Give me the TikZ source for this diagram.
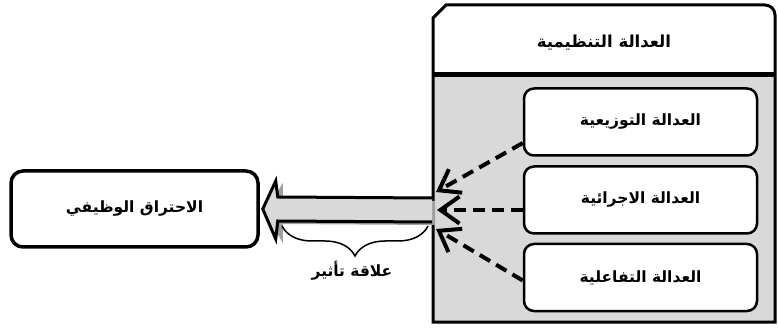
\documentclass[tikz,border=0pt]{standalone}
\usepackage{fontspec}
\newfontfamily\arabicfont[Script=Arabic]{DejaVu Sans}
\TeXXeTstate=1
\usetikzlibrary{arrows.meta,calc,decorations.pathreplacing}
\definecolor{bodygray}{RGB}{217,217,217}
\definecolor{shadowgray}{RGB}{160,160,160}
\tikzset{
  ar/.style={font=\arabicfont\bfseries\fontsize{15.5}{18}\selectfont},
  innerbox/.style={draw=black, line width=2.5pt, rounded corners=10pt, fill=white,
    minimum width=233pt, minimum height=67pt, ar},
  burnbox/.style={draw=black, line width=3.5pt, rounded corners=12pt, fill=white,
    minimum width=247pt, minimum height=76pt, ar},
  dasharr/.style={line width=4pt, dash pattern=on 12pt off 7pt,
    -{Straight Barb[length=19pt,width=27pt,line width=4pt]}},
  blockarr/.style={draw=black, line width=3pt, fill=bodygray, line join=miter},
  bracestyle/.style={draw=black, line width=1.5pt, decorate,
    decoration={brace, mirror, amplitude=30pt, aspect=0.5}},
}
\begin{document}
\begin{tikzpicture}[x=1pt,y=-1pt]
\useasboundingbox (0,0) rectangle (778,328);
% outer frame
\fill[bodygray] (433,18) -- (446,5) [rounded corners=10pt] -- (775,5) [sharp corners] -- (775,322) -- (433,322) -- cycle;
\fill[white] (433,18) -- (446,5) [rounded corners=10pt] -- (775,5) [sharp corners] -- (775,75) -- (433,75) -- cycle;
\draw[line width=3pt] (433,18) -- (446,5) [rounded corners=10pt] -- (775,5) [sharp corners] -- (775,322) -- (433,322) -- cycle;
\coordinate (sepL) at (433,75);
\coordinate (sepR) at (775,75);
\draw[line width=5pt] (sepL) -- (sepR);
\node[ar, font=\arabicfont\bfseries\fontsize{16.5}{19}\selectfont] (hdr) at (604,43) {\beginR العدالة التنظيمية\endR};
% inner boxes
\node[innerbox] (b1) at (640.5,122) {\beginR العدالة التوزيعية\endR};
\node[innerbox] (b2) at (640.5,200) {\beginR العدالة الاجرائية\endR};
\node[innerbox] (b3) at (640.5,277.5) {\beginR العدالة التفاعلية\endR};
% left box
\node[burnbox] (burn) at (134.5,209) {\beginR الاحتراق الوظيفي\endR};
% block arrow
\coordinate (tail) at (432,210);
\coordinate (tip) at ([xshift=3pt]burn.east);
\fill[shadowgray] ([xshift=3pt,yshift=9pt]tail) -- ([xshift=20pt,yshift=9pt]tip) -- ([xshift=20pt,yshift=26pt]tip) -- ([xshift=3pt,yshift=-3pt]tip) -- ([xshift=20pt,yshift=-34pt]tip) -- ([xshift=20pt,yshift=-15pt]tip) -- ([xshift=3pt,yshift=-15pt]tail) -- cycle;
\path[blockarr] ([yshift=12pt]tail) -- ([xshift=15pt,yshift=12pt]tip) -- ([xshift=13pt,yshift=28pt]tip) -- (tip) -- ([xshift=13pt,yshift=-30pt]tip) -- ([xshift=15pt,yshift=-12pt]tip) -- ([yshift=-12pt]tail);
% brace
\coordinate (brL) at (282,226);
\coordinate (brR) at (428,226);
\draw[bracestyle] (brL) -- (brR);
\node[ar] (rel) at (352,271) {\beginR علاقة تأثير\endR};
% dashed arrows
\coordinate (t1) at (436,192);
\coordinate (t2) at (437,210);
\coordinate (t3) at (436,229);
\draw[dasharr] ([yshift=-21pt]b1.west) -- (t1);
\draw[dasharr] ([yshift=-10pt]b2.west) -- (t2);
\draw[dasharr] ([yshift=-3pt]b3.west) -- (t3);
\end{tikzpicture}
\end{document}
